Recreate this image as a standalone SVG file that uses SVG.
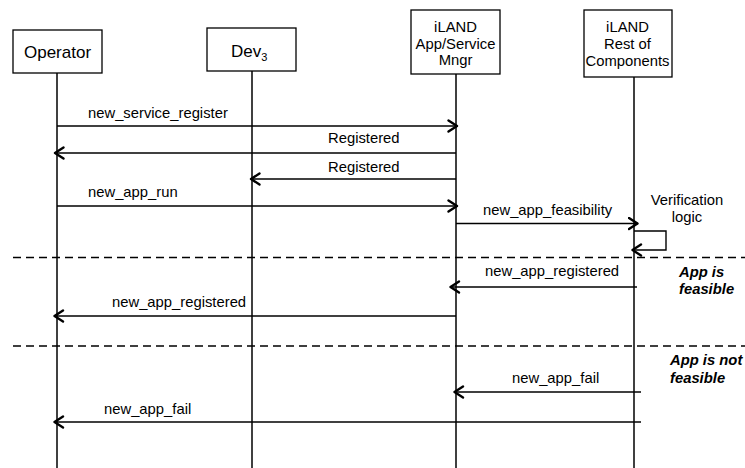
<svg xmlns="http://www.w3.org/2000/svg" width="745" height="468" viewBox="0 0 745 468">
<style>
text{font-family:"Liberation Sans",Arial,sans-serif;font-size:14.8px;fill:#000}
.box{fill:#fff;stroke:#000;stroke-width:1.3}
.life{stroke:#000;stroke-width:1.5;fill:none}
.msg{stroke:#000;stroke-width:1.4;fill:none;marker-end:url(#ah)}
.dash{stroke:#000;stroke-width:1.3;stroke-dasharray:8 5;fill:none}
.note{font-weight:bold;font-style:italic}
.big{font-size:17px}
.mid{text-anchor:middle}
</style>
<defs>
<marker id="ah" viewBox="0 0 12 14" refX="10.5" refY="7" markerWidth="12" markerHeight="14" markerUnits="userSpaceOnUse" orient="auto">
<path d="M1.5,1.5 L10,7 L1.5,12.5" fill="none" stroke="#000" stroke-width="2.4" stroke-linecap="round" stroke-linejoin="round"/>
</marker>
</defs>
<rect width="745" height="468" fill="#fff"/>
<g id="operator">
<rect class="box" x="13" y="30" width="89" height="43"/>
<line class="life" x1="57" y1="73" x2="57" y2="468"/>
<text class="big mid" x="57.5" y="58">Operator</text>
</g>
<g id="dev3">
<rect class="box" x="207" y="28" width="89" height="43"/>
<line class="life" x1="252" y1="71" x2="252" y2="468"/>
<text class="big" x="231" y="57">Dev<tspan font-size="11" dy="4">3</tspan></text>
</g>
<g id="appmgr">
<rect class="box" x="411" y="10" width="89" height="64"/>
<line class="life" x1="456" y1="74" x2="456" y2="468"/>
<text class="mid" x="455.5" y="32">iLAND</text>
<text class="mid" x="455.5" y="48.5">App/Service</text>
<text class="mid" x="455.5" y="65">Mngr</text>
</g>
<g id="rest">
<rect class="box" x="584" y="10" width="88" height="67"/>
<line class="life" x1="634" y1="77" x2="634" y2="468"/>
<text class="mid" x="627.5" y="32">iLAND</text>
<text class="mid" x="627.5" y="48.5">Rest of</text>
<text class="mid" x="627.5" y="65.5">Components</text>
</g>
<g id="connectors">
<line class="msg" x1="57" y1="126" x2="457.5" y2="126"/>
<line class="msg" x1="456" y1="153" x2="54.5" y2="153"/>
<line class="msg" x1="456" y1="179" x2="250.5" y2="179"/>
<line class="msg" x1="57" y1="206" x2="457.5" y2="206"/>
<line class="msg" x1="456" y1="223.5" x2="638" y2="223.5"/>
<polyline class="msg" points="634,231 666,231 666,250 632,250"/>
<line class="msg" x1="637" y1="287" x2="450" y2="287"/>
<line class="msg" x1="456" y1="316" x2="54" y2="316"/>
<line class="msg" x1="641" y1="392" x2="454" y2="392"/>
<line class="msg" x1="641" y1="422" x2="54" y2="422"/>
<line class="dash" x1="13" y1="257.5" x2="745" y2="257.5"/>
<line class="dash" x1="13" y1="346" x2="745" y2="346"/>
</g>
<g id="labels">
<text x="88" y="117.5">new_service_register</text>
<text x="328" y="143">Registered</text>
<text x="328" y="171.5">Registered</text>
<text x="88" y="197">new_app_run</text>
<text x="483" y="215">new_app_feasibility</text>
<text class="mid" x="687" y="205">Verification</text>
<text class="mid" x="687" y="222">logic</text>
<text x="485" y="276">new_app_registered</text>
<text class="note" x="679" y="277">App is</text>
<text class="note" x="679" y="293.5">feasible</text>
<text x="112" y="307">new_app_registered</text>
<text class="note" x="670" y="365">App is not</text>
<text class="note" x="670" y="383">feasible</text>
<text x="512" y="383">new_app_fail</text>
<text x="104" y="414">new_app_fail</text>
</g>
</svg>
